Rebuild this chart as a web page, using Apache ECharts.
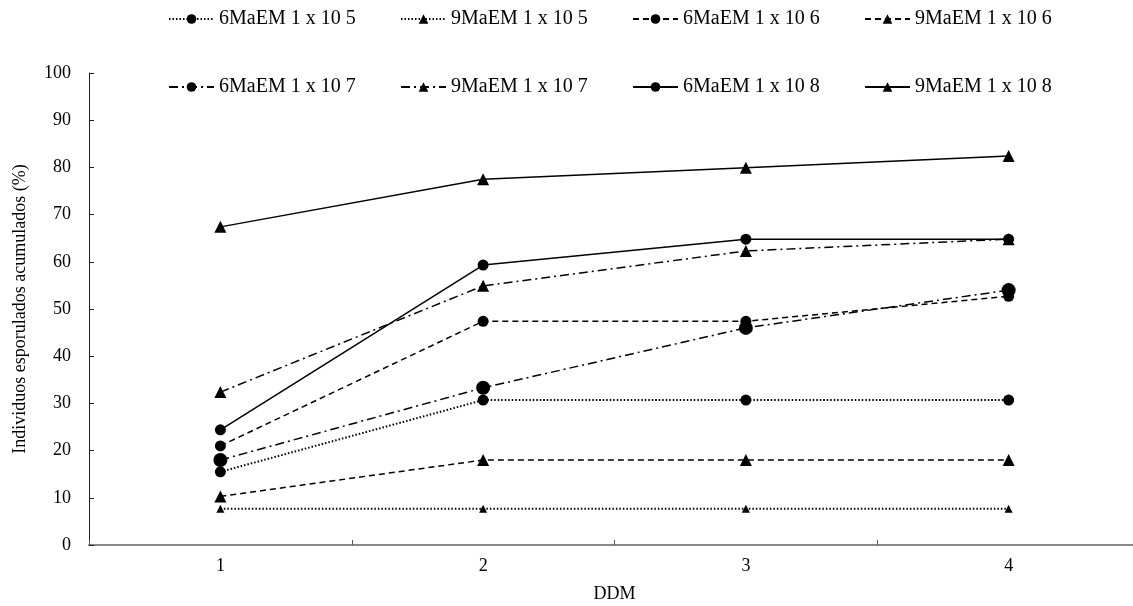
<!DOCTYPE html>
<html><head><meta charset="utf-8">
<script src="https://cdn.jsdelivr.net/npm/echarts@6/dist/echarts.min.js"></script>
<style>html,body{margin:0;padding:0;background:#fff}#c{width:1133px;height:606px}</style>
</head><body><div id="c"></div>
<script>
const categories = ['1', '2', '3', '4'];
const seriesNames = ['6MaEM 1 x 10 5', '9MaEM 1 x 10 5', '6MaEM 1 x 10 6', '9MaEM 1 x 10 6',
                     '6MaEM 1 x 10 7', '9MaEM 1 x 10 7', '6MaEM 1 x 10 8', '9MaEM 1 x 10 8'];
const s6_e5 = [15.5, 30.7, 30.7, 30.7];
const s9_e5 = [7.7, 7.7, 7.7, 7.7];
const s6_e6 = [21.0, 47.4, 47.4, 52.7];
const s9_e6 = [10.3, 18.0, 18.0, 18.0];
const s6_e7 = [18.0, 33.3, 46.0, 54.0];
const s9_e7 = [32.4, 54.9, 62.3, 64.8];
const s6_e8 = [24.4, 59.3, 64.8, 64.8];
const s9_e8 = [67.4, 77.5, 79.9, 82.4];
const yTicks = [0, 10, 20, 30, 40, 50, 60, 70, 80, 90, 100];

const values = [s6_e5, s9_e5, s6_e6, s9_e6, s6_e7, s9_e7, s6_e8, s9_e8];
const lineTypes = [[1.5,2],[1.5,2],[6,4],[6,4],[9,4,2,4],[9,4,2,4],'solid','solid'];
const lineWidths = [2,2,1.5,1.5,1.5,1.5,1.5,1.5];
const symbols = ['circle','triangle','circle','triangle','circle','triangle','circle','triangle'];
const symSizes = [11,8,11,12,14,12,11,12];
const font = 'Liberation Serif';

const series = seriesNames.map((n,i)=>({
  name: n, type: 'line', data: values[i],
  symbol: symbols[i], symbolSize: symSizes[i],
  itemStyle: {color:'#000'},
  lineStyle: {color:'#000', width: lineWidths[i], type: lineTypes[i]},
  emphasis: {disabled: true}, animation: false
}));

const legX = [168, 400, 632, 864];
const legY = [9, 77];
const legends = seriesNames.map((n,i)=>({
  data: [n], left: legX[i%4], top: legY[Math.floor(i/4)], padding: 0,
  itemWidth: 45, itemHeight: 12, itemGap: 6,
  textStyle: {fontFamily: font, fontSize: 20, color:'#000'},
  selectedMode: false
}));

const chart = echarts.init(document.getElementById('c'));
chart.setOption({
  backgroundColor: '#fff',
  animation: false,
  legend: legends,
  grid: {left: 89, width: 1051, top: 73, bottom: 61, outerBoundsMode: 'none', containLabel: false},
  xAxis: {
    type: 'category', data: categories, boundaryGap: true,
    name: 'DDM', nameLocation: 'middle', nameGap: 40,
    nameTextStyle: {fontFamily: font, fontSize: 18, color:'#000'},
    axisLine: {lineStyle: {color:'#888', width: 2}},
    axisTick: {show: true, inside: true, length: 5, lineStyle:{color:'#555'}},
    axisLabel: {fontFamily: font, fontSize: 18, color:'#000', margin: 12},
    splitLine: {show: false}
  },
  yAxis: {
    type: 'value', min: 0, max: 100, interval: 10,
    name: 'Individuos esporulados acumulados (%)', nameLocation: 'middle', nameGap: 60,
    nameTextStyle: {fontFamily: font, fontSize: 18, color:'#000'},
    axisLine: {show: true, lineStyle: {color:'#222', width: 1}},
    axisTick: {show: true, inside: true, length: 5, lineStyle:{color:'#222'}},
    axisLabel: {fontFamily: font, fontSize: 18, color:'#000', margin: 18,
      formatter: v => yTicks.includes(v) ? String(v) : ''},
    splitLine: {show: false}
  },
  series: series
});
</script></body></html>
